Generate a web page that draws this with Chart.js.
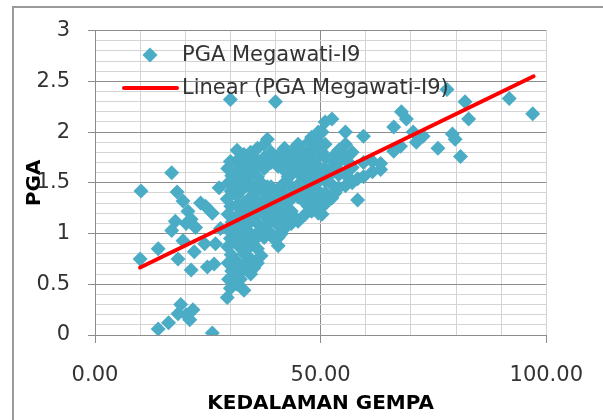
<!DOCTYPE html>
<html>
<head>
<meta charset="utf-8">
<script src="https://cdn.jsdelivr.net/npm/chart.js@4.4.1/dist/chart.umd.min.js"></script>
<style>
    html, body { margin: 0; padding: 0; background: #ffffff; }
    canvas { display: block; }
</style>
</head>
<body>
<canvas id="pgaChart" width="603" height="420"></canvas>
<script>
// kedalaman gempa (x) vs PGA (y)
const depth = [
    // scattered points left of the main cloud
    10.2, 10.0, 14.0, 17.0, 18.2, 19.5, 20.6, 23.4, 24.5, 26.0,
    17.8, 20.2, 21.3, 17.0, 22.3, 19.5, 24.3, 26.7, 22.0, 18.4,
    21.3, 24.9, 26.4, 19.0, 21.7, 20.2, 18.4, 21.0, 16.3, 14.0,
    26.0, 27.5, 27.8,
    // column around 30
    29.3, 30.0, 29.6, 30.3, 29.5, 30.2, 29.4, 30.0, 29.7, 30.4,
    29.5, 30.1, 29.3, 30.2, 29.6, 30.3, 29.4, 30.0, 30.0,
    // main cloud
    31.5, 31.5, 31.5, 31.5, 31.5, 31.5, 31.5, 31.5, 31.5, 31.5, 31.5, 31.5,
    32.2, 32.2, 32.2, 32.2, 32.2,
    33.0, 33.0, 33.0, 33.0, 33.0, 33.0, 33.0, 33.0, 33.0, 33.0, 33.0,
    33.8, 33.8, 33.8, 33.8, 33.8,
    34.5, 34.5, 34.5, 34.5, 34.5, 34.5, 34.5, 34.5, 34.5, 34.5, 34.5,
    35.2, 35.2, 35.2, 35.2, 35.2, 35.2,
    36.0, 36.0, 36.0, 36.0, 36.0, 36.0, 36.0, 36.0, 36.0, 36.0,
    36.8, 36.8, 36.8, 36.8,
    37.5, 37.5, 37.5, 37.5, 37.5, 37.5, 37.5, 37.5,
    38.2, 38.2, 38.2, 38.2, 38.2,
    39.0, 39.0, 39.0, 39.0, 39.0, 39.0, 39.0,
    39.8, 39.8, 39.8,
    40.0,
    40.6, 40.6, 40.6, 40.6, 40.6, 40.6, 40.6, 40.6,
    41.3, 41.3, 41.3, 41.3,
    42.0, 42.0, 42.0, 42.0, 42.0, 42.0, 42.0, 42.0,
    42.8, 42.8, 42.8, 42.8,
    43.5, 43.5, 43.5, 43.5, 43.5, 43.5, 43.5,
    44.2, 44.2, 44.2, 44.2,
    45.0, 45.0, 45.0, 45.0, 45.0, 45.0,
    45.8, 45.8, 45.8,
    46.6, 46.6, 46.6, 46.6, 46.6, 46.6,
    47.3, 47.3, 47.3, 47.3,
    48.0, 48.0, 48.0, 48.0, 48.0, 48.0, 48.0,
    48.8, 48.8, 48.8, 48.8,
    49.5, 49.5, 49.5, 49.5, 49.5, 49.5, 49.5, 49.5,
    50.3, 50.3, 50.3, 50.3, 50.3,
    51.0, 51.0, 51.0, 51.0, 51.0, 51.0, 51.0,
    52.5, 52.5, 52.5, 52.5, 52.5,
    53.2, 53.2, 53.2,
    54.0, 54.0, 54.0, 54.0,
    55.5, 55.5, 55.5, 55.5, 55.5,
    56.2, 56.2,
    57.0, 57.0, 57.0,
    58.2, 58.2,
    59.5, 59.5, 59.5,
    61.5, 61.5,
    63.3, 63.3,
    // right side
    66.2, 66.2, 67.7, 67.9, 69.0, 70.5, 71.2, 72.7, 76.0, 78.0,
    79.2, 79.8, 81.0, 82.0, 82.8, 91.8, 97.0
];

const pga = [
    1.42, 0.75, 0.85, 1.60, 1.41, 1.32, 1.22, 1.30, 1.27, 1.20,
    1.12, 1.10, 1.14, 1.03, 1.06, 0.93, 0.90, 0.90, 0.82, 0.75,
    0.64, 0.67, 0.70, 0.30, 0.25, 0.20, 0.21, 0.15, 0.12, 0.06,
    0.02, 1.45, 1.05,
    0.37, 0.46, 0.55, 0.63, 0.71, 0.79, 0.87, 0.95, 1.03, 1.11,
    1.19, 1.27, 1.34, 1.42, 1.50, 1.57, 1.64, 1.71, 2.32,
    0.50, 0.60, 0.72, 0.92, 1.02, 1.15, 1.28, 1.38, 1.50, 1.60, 1.72, 1.82,
    0.55, 0.86, 1.21, 1.44, 1.66,
    0.44, 0.65, 0.80, 0.95, 1.08, 1.20, 1.30, 1.45, 1.55, 1.66, 1.78,
    0.72, 1.02, 1.25, 1.50, 1.73,
    0.60, 0.75, 0.88, 1.00, 1.12, 1.25, 1.36, 1.48, 1.60, 1.70, 1.80,
    0.66, 0.93, 1.18, 1.42, 1.63, 1.76,
    0.71, 0.85, 0.98, 1.10, 1.22, 1.32, 1.44, 1.56, 1.68, 1.84,
    0.78, 1.04, 1.27, 1.50,
    0.96, 1.06, 1.18, 1.30, 1.40, 1.64, 1.75, 1.88,
    1.02, 1.23, 1.46, 1.70, 1.93,
    1.00, 1.12, 1.25, 1.36, 1.46, 1.70, 1.80,
    0.94, 1.17, 1.40,
    2.30,
    0.88, 0.96, 1.08, 1.20, 1.32, 1.44, 1.66, 1.76,
    1.00, 1.25, 1.44, 1.80,
    1.05, 1.16, 1.28, 1.38, 1.50, 1.62, 1.74, 1.84,
    1.12, 1.33, 1.56, 1.79,
    1.10, 1.22, 1.34, 1.46, 1.58, 1.68, 1.78,
    1.16, 1.40, 1.64, 1.84,
    1.12, 1.36, 1.48, 1.60, 1.72, 1.88,
    1.45, 1.67, 1.82,
    1.19, 1.30, 1.42, 1.54, 1.64, 1.76,
    1.27, 1.52, 1.74, 1.90,
    1.22, 1.35, 1.47, 1.58, 1.70, 1.82, 1.95,
    1.25, 1.48, 1.62, 1.86,
    1.20, 1.30, 1.42, 1.55, 1.66, 1.78, 1.90, 2.00,
    1.19, 1.35, 1.58, 1.80, 2.00,
    1.29, 1.40, 1.52, 1.64, 1.75, 1.88, 2.10,
    1.35, 1.48, 1.60, 1.72, 2.13,
    1.40, 1.66, 1.78,
    1.45, 1.58, 1.70, 1.82,
    1.47, 1.60, 1.75, 1.88, 2.00,
    1.55, 1.70,
    1.50, 1.65, 1.80,
    1.33, 1.54,
    1.56, 1.70, 1.96,
    1.61, 1.71,
    1.63, 1.69,
    1.81, 2.05, 1.86, 2.20, 2.13, 2.00, 1.90, 1.96, 1.84, 2.42,
    1.98, 1.93, 1.76, 2.30, 2.13, 2.33, 2.18
];

// end points of the Excel linear trendline
const trendDepth = [10.0, 97.2];
const trendPga = [0.665, 2.55];

// ticks that carry a label
const xLabelTicks = [0, 50, 100];
const yLabelTicks = [0, 0.5, 1, 1.5, 2, 2.5, 3];

const seriesName = 'PGA Megawati-I9';
const trendName = 'Linear (PGA Megawati-I9)';

const pointColor = '#4bacc6';
const majorGrid = '#8c8c8c';
const minorGrid = '#d4d4d4';

function isLabelTick(list, v) {
    return list.some(t => Math.abs(t - v) < 1e-6);
}

const points = depth.map((d, i) => ({ x: d, y: pga[i] }));
const trend = trendDepth.map((d, i) => ({ x: d, y: trendPga[i] }));

// outer frame of the excel chart (left + top edge only are visible)
const framePlugin = {
    id: 'frame',
    beforeDraw(chart) {
        const ctx = chart.ctx;
        ctx.save();
        ctx.strokeStyle = '#9a9a9a';
        ctx.lineWidth = 2;
        ctx.beginPath();
        ctx.moveTo(13, chart.height);
        ctx.lineTo(13, 7);
        ctx.lineTo(chart.width, 7);
        ctx.stroke();
        ctx.restore();
    }
};

// legend sits inside the plot area, top-left
const legendPlugin = {
    id: 'insideLegend',
    afterDraw(chart) {
        const ctx = chart.ctx;
        ctx.save();
        ctx.font = '21px "DejaVu Sans"';
        ctx.textBaseline = 'middle';

        // diamond
        ctx.fillStyle = pointColor;
        ctx.beginPath();
        ctx.moveTo(150 - 7.5, 55);
        ctx.lineTo(150, 55 - 7.5);
        ctx.lineTo(150 + 7.5, 55);
        ctx.lineTo(150, 55 + 7.5);
        ctx.closePath();
        ctx.fill();

        ctx.fillStyle = '#333333';
        ctx.fillText(seriesName, 182, 56);

        // trend line sample
        ctx.strokeStyle = '#ff0000';
        ctx.lineWidth = 4;
        ctx.lineCap = 'round';
        ctx.beginPath();
        ctx.moveTo(124, 88);
        ctx.lineTo(177, 88);
        ctx.stroke();

        ctx.fillText(trendName, 182, 89);
        ctx.restore();
    }
};

const ctx = document.getElementById('pgaChart').getContext('2d');
new Chart(ctx, {
    type: 'scatter',
    data: {
        datasets: [
            {
                label: trendName,
                type: 'line',
                data: trend,
                borderColor: '#ff0000',
                borderWidth: 4,
                borderCapStyle: 'round',
                pointRadius: 0,
                fill: false,
                order: 0
            },
            {
                label: seriesName,
                data: points,
                pointStyle: 'rectRot',
                pointRadius: 7.5,
                pointBackgroundColor: pointColor,
                pointBorderWidth: 0,
                order: 1
            }
        ]
    },
    options: {
        responsive: false,
        animation: false,
        layout: {
            padding: { left: 0, top: 28, right: 47, bottom: 0 }
        },
        scales: {
            x: {
                type: 'linear',
                min: 0,
                max: 100,
                afterFit: scale => { scale.height = 85; },
                ticks: {
                    stepSize: 10,
                    autoSkip: false,
                    maxRotation: 0,
                    padding: 20,
                    color: '#333333',
                    font: { family: 'DejaVu Sans', size: 21 },
                    callback: v => isLabelTick(xLabelTicks, v) ? v.toFixed(2) : ''
                },
                grid: {
                    tickLength: 8,
                    color: c => isLabelTick([50], c.tick.value) ? majorGrid : minorGrid,
                    tickColor: c => isLabelTick(xLabelTicks, c.tick.value) ? majorGrid : 'rgba(0,0,0,0)'
                },
                border: { color: majorGrid },
                title: {
                    display: true,
                    text: 'KEDALAMAN GEMPA',
                    color: '#000000',
                    font: { family: 'DejaVu Sans', size: 20, weight: 'bold' },
                    padding: { top: 0, bottom: 4 }
                }
            },
            y: {
                type: 'linear',
                min: 0,
                max: 3,
                afterFit: scale => { scale.width = 95; },
                ticks: {
                    stepSize: 0.1,
                    autoSkip: false,
                    padding: 18,
                    color: '#333333',
                    font: { family: 'DejaVu Sans', size: 21 },
                    callback: v => isLabelTick(yLabelTicks, v) ? String(Math.round(v * 10) / 10) : ''
                },
                grid: {
                    tickLength: 7,
                    color: c => isLabelTick(yLabelTicks, c.tick.value) ? majorGrid : minorGrid,
                    tickColor: c => isLabelTick(yLabelTicks, c.tick.value) ? majorGrid : 'rgba(0,0,0,0)'
                },
                border: { color: majorGrid },
                title: {
                    display: true,
                    text: 'PGA',
                    color: '#000000',
                    font: { family: 'DejaVu Sans', size: 20, weight: 'bold' },
                    padding: { top: 23, bottom: 0 }
                }
            }
        },
        plugins: {
            legend: { display: false },
            tooltip: { enabled: false }
        }
    },
    plugins: [framePlugin, legendPlugin]
});
</script>
</body>
</html>
